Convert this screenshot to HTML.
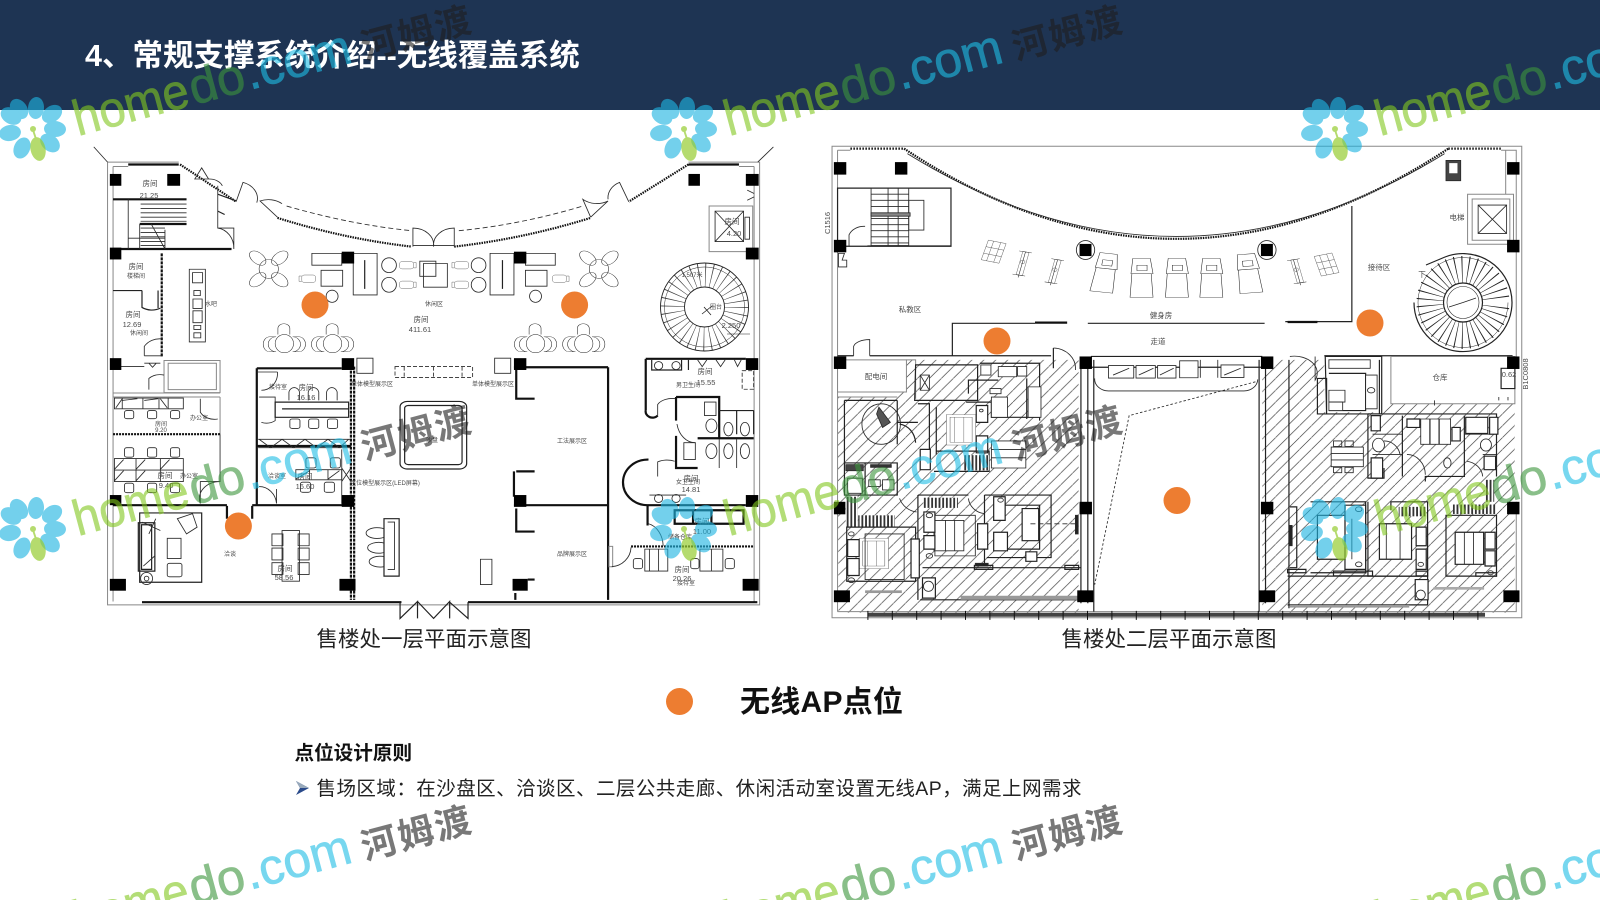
<!DOCTYPE html>
<html lang="zh"><head><meta charset="utf-8"><title>无线覆盖系统</title>
<style>
html,body{margin:0;padding:0;background:#fff;width:1600px;height:900px;overflow:hidden}
svg{display:block}
text{font-family:"Liberation Sans","Noto Sans CJK SC",sans-serif}
.p *{vector-effect:non-scaling-stroke}
pattern *{vector-effect:none!important}
.p{fill:none;stroke:#2a2a2a;stroke-width:.85}
.t{stroke:#111;stroke-width:2.2}
.m{stroke:#222;stroke-width:1.2}
.g{stroke:#888;stroke-width:1}
.w{fill:#fff}
.k{fill:#000;stroke:none}
.l text{fill:#4a4a4a;font-size:7.5px;text-anchor:middle;stroke:none}
.l .s{font-size:6px}
</style></head><body>
<svg xmlns="http://www.w3.org/2000/svg" width="1600" height="900" viewBox="0 0 1600 900">
<defs>
<pattern id="h" patternUnits="userSpaceOnUse" width="26" height="35"><path d="M-2 37.7L28 -2.7" stroke="#3a3a3a" stroke-width="1.6" fill="none"/></pattern>
<pattern id="st" patternUnits="userSpaceOnUse" width="8" height="20"><rect width="8" height="20" fill="#fff"/><rect width="4" height="20" fill="#333"/></pattern>
<g id="t4" class="m"><ellipse rx="21" ry="28"/><ellipse cx="-24" cy="-32" rx="14" ry="24" transform="rotate(-35 -24 -32)"/><ellipse cx="24" cy="-32" rx="14" ry="24" transform="rotate(35 24 -32)"/><ellipse cx="-24" cy="32" rx="14" ry="24" transform="rotate(35 -24 32)"/><ellipse cx="24" cy="32" rx="14" ry="24" transform="rotate(-35 24 32)"/></g>
<g id="t3" class="m"><ellipse rx="20" ry="27"/><path d="M-18 -20A14 18 0 0 0 -18 24H-32A14 22 0 0 1 -32 -20Z"/><path d="M18 -20A14 18 0 0 1 18 24H32A14 22 0 0 0 32 -20Z"/><path d="M-14 -27V-45A13 14 0 0 1 12 -45V-27"/></g>
<g id="ch"><rect x="-11" y="-14" width="22" height="30" rx="6"/><path d="M-8 -14V-20H8V-14"/></g>
<g id="tm" class="m"><path class="w" d="M-22 0L-26 70H24L20 0Z"/><path class="w" d="M-20 -45H18L24 0H-24Z"/><rect x="-11" y="-25" width="22" height="16"/></g>
<g id="bk"><rect class="w" x="-20" y="-30" width="40" height="60"/><path d="M-20 -10H20M-20 10H20M-8 -30V30M8 -30V30"/></g>
<g id="gy"><path class="w" d="M-6 -35H8V35H-6Z"/><path class="m" d="M-14 -35H14M-14 35H14M0 -35V42"/><circle cy="-5" r="5"/></g>
<g id="bed"><rect class="w" width="64" height="90"/><rect x="8" y="8" width="48" height="74"/><path d="M18 8V82M38 8V82"/></g>
<g id="fl"><g fill="#1eb4e1" opacity=".62"><ellipse cx="-14" cy="-19" rx="8" ry="11" transform="rotate(-36 -14 -19)"/><ellipse cx="3" cy="-20" rx="8" ry="11" transform="rotate(5 3 -20)"/><ellipse cx="19" cy="-14" rx="8" ry="11" transform="rotate(55 19 -14)"/><ellipse cx="22" cy="1" rx="8" ry="11" transform="rotate(93 22 1)"/><ellipse cx="17" cy="15" rx="8" ry="11" transform="rotate(130 17 15)"/><ellipse cx="-22" cy="-12" rx="8" ry="11" transform="rotate(-60 -22 -12)"/><ellipse cx="-23" cy="5" rx="8" ry="11" transform="rotate(-100 -23 5)"/><ellipse cx="-11" cy="20" rx="8" ry="11" transform="rotate(-155 -11 20)"/></g><g fill="#96cd32" opacity=".7"><ellipse cx="5" cy="21" rx="7.5" ry="12" transform="rotate(168 5 21)"/><circle cx="0" cy="1" r="3"/><path d="M-1 2L3 14H5L1 2Z"/></g></g>
<g id="wt"><g transform="translate(45,8) rotate(-15)" font-size="50" opacity=".6" stroke-width=".7"><text x="0" y="0" textLength="118" lengthAdjust="spacingAndGlyphs" fill="#82c81e" stroke="#82c81e">home</text><text x="120" y="0" textLength="56" lengthAdjust="spacingAndGlyphs" fill="#3c963c" stroke="#3c963c">do</text><text x="178" y="0" textLength="108" lengthAdjust="spacingAndGlyphs" fill="#1ebee6" stroke="#1ebee6">.com</text></g><text transform="translate(332,-68) rotate(-15)" font-size="36" font-weight="700" fill="#1e1e1e" fill-opacity=".6" textLength="112">河姆渡</text></g>
</defs>
<rect width="1600" height="110" fill="#1e3453"/>
<text x="85" y="66" font-size="30.5" font-weight="700" fill="#fff">4、常规支撑系统介绍--无线覆盖系统</text>

<!-- LEFT PLAN -->
<g class="p" transform="translate(80,130) scale(.4592,.338)">
<path class="g" d="M60 95H215M60 95V1405H1480V95H1325M72 108V1395M1468 108V1395M72 108H105M1468 108H1435"/>
<path d="M30 50L60 95M1510 50L1476 95"/>
<path class="t" d="M105 102H215M1325 102H1435"/>
<path class="t" d="M135 1397H700M845 1397H1475"/>
<path class="t" stroke-dasharray="1.5 1" d="M218 102L340 212M1325 102L1195 212"/>
<path class="t" stroke-dasharray="1.5 1" d="M430 260Q575 322 722 345M815 345Q965 322 1112 260"/>
<path d="M450 225Q590 280 722 298M825 298Q960 280 1095 225" stroke-dasharray="5 3"/>
<path d="M725 345V290A45 50 0 0 1 770 345A45 50 0 0 1 815 290V345M725 342H815M430 258L392 210A50 60 0 0 1 440 218M1112 258L1095 205A50 60 0 0 0 1150 210L1112 258M340 212L355 155A45 50 0 0 1 385 215M1195 212L1175 155A45 50 0 0 0 1150 205M265 112L250 145L280 145ZM280 145A30 30 0 0 1 310 165"/>
<path class="t" d="M72 205H232M130 278H232M72 352H330"/>
<path d="M105 205V352M130 352V278M105 320H185M185 295V352M300 165V290H335V352M300 290A40 60 0 0 1 335 352"/>
<path d="M132 219H232M132 232H232M132 245H232M132 258H232M132 270H232M132 290H185M132 303H185M132 316H185M132 330H185M132 342H185M155 278L185 352"/>
<path class="t" stroke-dasharray="3 1" d="M178 365V670"/>
<path class="m" d="M72 475H135M135 475V525A40 50 0 0 0 175 527M170 475V527"/>
<path d="M140 668V640A40 50 0 0 1 178 618M140 668H178"/>
<rect x="238" y="412" width="35" height="215"/><rect x="245" y="422" width="22" height="30"/><rect x="248" y="475" width="14" height="15"/><rect x="246" y="500" width="20" height="28"/><rect x="246" y="535" width="20" height="35"/><rect x="248" y="578" width="15" height="12"/><rect x="248" y="600" width="15" height="15"/>
<use href="#t4" x="411" y="411"/><use href="#t4" x="1130" y="411"/>
<rect x="505" y="365" width="65" height="35"/><rect x="970" y="365" width="65" height="35"/>
<rect x="595" y="365" width="52" height="123"/><rect x="893" y="365" width="52" height="123"/><path class="m" d="M620 385V470M920 385V470"/>
<rect x="525" y="415" width="47" height="47"/><rect x="970" y="415" width="47" height="47"/>
<use href="#ch" transform="translate(497,440) rotate(-90)"/><use href="#ch" transform="translate(1045,440) rotate(90)"/>
<ellipse cx="673" cy="400" rx="16" ry="22"/><ellipse cx="673" cy="458" rx="16" ry="22"/><ellipse cx="868" cy="400" rx="16" ry="22"/><ellipse cx="868" cy="458" rx="16" ry="22"/>
<use href="#ch" transform="translate(712,400) rotate(90)"/><use href="#ch" transform="translate(712,458) rotate(90)"/><use href="#ch" transform="translate(830,400) rotate(-90)"/><use href="#ch" transform="translate(830,458) rotate(-90)"/>
<rect x="740" y="388" width="35" height="45"/><rect x="748" y="395" width="52" height="70"/>
<ellipse cx="549" cy="492" rx="13" ry="18"/><ellipse cx="992" cy="492" rx="13" ry="18"/>
<use href="#t3" x="445" y="632"/><use href="#t3" x="550" y="632"/><use href="#t3" x="992" y="632"/><use href="#t3" x="1097" y="632"/>
<rect x="603" y="675" width="35" height="45"/><rect x="903" y="675" width="35" height="45"/>
<path stroke-dasharray="4 2" d="M686 700H855V732H686ZM706 700V732M770 700V732M832 700V732"/>
<path class="g" d="M183 682H305V777H183ZM192 690H297V768H192ZM72 778H305M72 790H305M305 790V900"/>
<path d="M150 768V735A35 40 0 0 1 183 725M72 700H140"/>
<path d="M140 690H175M150 690L158 702L166 690"/>
<path d="M75 793H225V825H75ZM92 793V825M137 793V825M172 793V825M192 793V825M78 822L92 795M125 795L92 800M170 795L140 800M190 822L175 795"/>
<rect x="97" y="830" width="20" height="24" rx="5"/><rect x="147" y="830" width="20" height="24" rx="5"/><rect x="197" y="830" width="20" height="24" rx="5"/>
<path d="M262 795V835A35 40 0 0 0 300 855"/>
<path class="t" stroke-dasharray="2 1" d="M72 900H305"/>
<rect x="97" y="940" width="20" height="28" rx="5"/><rect x="147" y="940" width="20" height="28" rx="5"/><rect x="197" y="940" width="20" height="28" rx="5"/>
<path d="M75 972H225V1040H75ZM75 1006H225M122 972V1040M175 972V1040M75 1004L95 975M122 1004L142 975M175 1004L195 975M75 1038L95 1008M122 1038L142 1008"/>
<rect x="97" y="1045" width="20" height="28" rx="5"/><rect x="147" y="1045" width="20" height="28" rx="5"/><rect x="197" y="1045" width="20" height="28" rx="5"/>
<path d="M305 900V1040A45 50 0 0 0 262 1105V1040H305"/>
<path class="t" d="M72 1110H320M375 1110H590M320 1112V1150M375 1112V1150"/>
<path class="m" d="M130 1133H265V1338H130Z"/><path class="m" d="M127 1162H163V1305H127ZM134 1168H156V1300H134Z"/>
<path d="M135 1160L175 1185M165 1150L150 1195M138 1290L163 1260"/>
<rect x="190" y="1208" width="30" height="60"/><rect x="190" y="1282" width="32" height="40" rx="5"/><path d="M212 1150L245 1135L255 1175L232 1195Z"/>
<ellipse cx="145" cy="1327" rx="13" ry="18"/><ellipse cx="145" cy="1327" rx="5" ry="7"/>
<rect x="440" y="1185" width="38" height="150"/>
<rect x="418" y="1195" width="24" height="35"/><rect x="418" y="1237" width="24" height="35"/><rect x="418" y="1280" width="24" height="35"/><rect x="475" y="1195" width="24" height="35"/><rect x="475" y="1237" width="24" height="35"/><rect x="475" y="1280" width="24" height="35"/>
<path class="t" d="M385 705H570M385 705V1110M385 935H590M945 702H1150M1150 702V1390M945 1110H1150"/>
<path d="M385 716H430M430 716A35 50 0 0 1 395 770M390 790H425V860A35 45 0 0 1 395 865"/>
<path class="m" d="M425 805H585V850H425ZM440 825H585"/>
<path d="M455 800V775A12 18 0 0 1 478 775V800M497 800V775A12 18 0 0 1 520 775V800M537 800V775A12 18 0 0 1 560 775V800"/>
<rect x="457" y="855" width="22" height="28" rx="5"/><rect x="498" y="855" width="22" height="28" rx="5"/><rect x="539" y="855" width="22" height="28" rx="5"/>
<path d="M388 915H590M388 940H590M390 915L415 940L440 915L465 940L490 915L515 940L540 915L565 940L585 915"/>
<path d="M470 1005H570V1035H470ZM500 1005V1035M540 1005V1035M470 1033L500 1008M540 1033L565 1008"/>
<rect x="492" y="970" width="22" height="30" rx="5"/><rect x="545" y="970" width="22" height="30" rx="5"/><rect x="480" y="1042" width="22" height="30" rx="5"/><rect x="532" y="1042" width="22" height="30" rx="5"/>
<path d="M570 945V1105H590M570 1000L590 1040M570 1040L590 1000M390 1055A38 55 0 0 1 428 1105V1062"/>
<path class="t" stroke-dasharray="3 1" d="M590 700V1390M597 700V1390"/>
<path class="t" d="M950 710V795H990M945 1010V1085M950 1010H990M950 1120V1188H990M975 1330H990M948 1370V1390"/>
<rect x="697" y="803" width="145" height="200" rx="16" class="m"/><rect x="707" y="815" width="125" height="175" rx="8" class="m"/>
<path class="m" d="M662 1150H695V1320H662Z"/><path d="M670 1160H685V1300H670"/><path d="M662 1180A24 16 0 1 0 662 1205M662 1222A24 16 0 1 0 662 1250M662 1262A24 16 0 1 0 662 1292"/>
<rect x="872" y="1270" width="25" height="75"/>
<path class="m" d="M697 1397V1445L735 1395V1445M735 1395L770 1445L805 1395V1445M805 1397L845 1445V1397"/>
<path class="t" d="M1232 677H1450M1232 677V830M1232 830A15 18 0 0 0 1258 845M1238 975A20 25 0 0 0 1235 1110H1450"/>
<path class="m" d="M1245 680V710H1310V680M1325 680V710"/>
<ellipse cx="1260" cy="697" rx="9" ry="12"/><ellipse cx="1298" cy="697" rx="9" ry="12"/><path d="M1345 680L1355 700L1365 680M1385 680L1395 700L1405 680M1425 680L1432 700L1440 680"/>
<rect x="1442" y="712" width="25" height="55" stroke-dasharray="4 2"/>
<path d="M1258 845V812A35 30 0 0 1 1298 795M1258 1025V982A35 30 0 0 1 1295 980"/>
<path class="t" d="M1298 790H1392V880M1298 790V860M1298 905V1000H1345M1345 912H1467M1392 880V912"/>
<rect x="1360" y="805" width="25" height="40"/><ellipse cx="1375" cy="875" rx="12" ry="20"/><ellipse cx="1412" cy="885" rx="10" ry="20"/><ellipse cx="1448" cy="885" rx="10" ry="20"/><path class="m" d="M1392 830L1430 830V900M1467 830V900M1430 830L1467 830"/>
<ellipse cx="1375" cy="950" rx="12" ry="22"/><ellipse cx="1412" cy="950" rx="10" ry="22"/><ellipse cx="1448" cy="950" rx="10" ry="22"/><path d="M1392 915V1000M1430 915V1000"/>
<rect x="1315" y="925" width="25" height="50"/>
<path d="M1300 870A40 70 0 0 0 1340 925"/>
<ellipse cx="1260" cy="1090" rx="9" ry="12"/><ellipse cx="1298" cy="1090" rx="9" ry="12"/><path d="M1240 1080H1320"/>
<path class="t" d="M1236 1112V1170M1295 1125H1445V1165H1295ZM1335 1125V1165M1375 1125V1165"/>
<path d="M1238 1165A40 70 0 0 1 1270 1230"/>
<path class="t" stroke-dasharray="2 1" d="M1200 1232H1468"/>
<rect x="1152" y="1232" width="8" height="60" class="g"/><path d="M1158 1292A45 60 0 0 0 1200 1235"/>
<path d="M1230 1240H1280V1305H1230ZM1240 1240V1305M1260 1240V1305M1350 1240H1400V1305H1350ZM1375 1240V1305"/>
<rect x="1205" y="1268" width="20" height="30" rx="6"/><rect x="1330" y="1268" width="18" height="30" rx="6"/><rect x="1405" y="1268" width="20" height="30" rx="6"/>
<rect x="1370" y="225" width="95" height="135" class="g"/><rect x="1383" y="240" width="62" height="90"/><path d="M1383 240L1445 330M1445 240L1383 330"/><rect x="1448" y="258" width="10" height="65" />
<path d="M1453 178L1468 188M1453 208L1468 198"/>
<path class="m" d="M300 190L340 210M300 240L315 250"/>
<g class="k"><rect x="65" y="130" width="25" height="35"/><rect x="190" y="130" width="28" height="35"/><rect x="1325" y="130" width="25" height="35"/><rect x="1450" y="130" width="28" height="35"/><rect x="65" y="348" width="25" height="35"/><rect x="1450" y="348" width="28" height="35"/><rect x="570" y="360" width="27" height="35"/><rect x="945" y="360" width="27" height="35"/><rect x="65" y="675" width="25" height="35"/><rect x="570" y="675" width="27" height="35"/><rect x="945" y="675" width="27" height="35"/><rect x="1450" y="675" width="27" height="35"/><rect x="65" y="1080" width="25" height="30"/><rect x="570" y="1080" width="27" height="35"/><rect x="945" y="1080" width="27" height="35"/><rect x="1450" y="1080" width="27" height="35"/><rect x="65" y="1328" width="35" height="35"/><rect x="565" y="1328" width="35" height="35"/><rect x="942" y="1328" width="33" height="35"/><rect x="1443" y="1328" width="35" height="35"/></g>
</g>
<!-- left spiral (real coords) -->
<g fill="none" stroke="#222">
<circle cx="704.5" cy="307" r="32" stroke-width="24" stroke-dasharray=".7 5.6" stroke-opacity=".85"/>
<circle cx="704.5" cy="307" r="44" stroke-width=".9"/><circle cx="704.5" cy="307" r="20" stroke-width=".9"/><circle cx="704.5" cy="307" r="40" stroke-width=".5"/>
<path d="M704 307L711 315M702 314L712 306" stroke-width=".8"/><path d="M727 334H750" stroke-width=".6"/>
</g>

<!-- RIGHT PLAN -->
<g class="p" transform="translate(810,130) scale(.4592,.338)">
<path fill="url(#h)" stroke="none" d="M60 790H190V680H585V1428H62ZM985 680H1120V835H1245V810H1535V1428H985Z"/>
<path fill="#fff" stroke="none" d="M620 1428L695 845L970 745L975 1428Z"/>
<path class="g" stroke="#555" d="M48 48H1550V1443H48ZM60 60H88M1505 60H1538V690M60 60V690M60 1425H1538V1100M1538 1120V1425M60 700V1425"/>
<path class="t" stroke-dasharray="1.5 1.5" stroke-width="5" d="M88 55H205M1390 55H1505"/>
<path class="t" stroke-dasharray="1.5 1" stroke-width="3.2" d="M205 55Q797 589 1390 55"/>
<path d="M212 70Q797 560 1382 70"/>
<path stroke="#444" stroke-width="4" d="M125 1434H1470"/>
<path stroke="#111" stroke-width="9" stroke-dasharray="1 23.4" d="M125 1436H1470"/>
<rect x="60" y="172" width="247" height="172" class="m"/><path class="m" d="M125 343H307"/>
<rect x="133" y="172" width="82" height="170"/><rect x="215" y="208" width="33" height="88"/>
<path d="M133 190H215M133 208H215M133 226H215M133 262H215M133 280H215M133 298H215M133 316H215M133 334H215M170 172V342M192 172V342"/>
<rect x="133" y="245" width="85" height="10" fill="#888"/>
<path d="M85 345V310A35 40 0 0 1 120 285M70 385H80V405H62V365H75Z"/>
<path class="m" d="M60 668H95M130 668H525M310 668V572H490M605 572H990M1035 567H1180V225M530 645V705M612 670H985M612 702H985M1120 668H1530"/>
<path class="t" d="M490 570H560M1040 568H1105"/>
<path d="M95 668V640A35 25 0 0 1 130 620V668M530 645A50 60 0 0 1 578 710"/>
<rect x="60" y="680" width="150" height="95" class="g" fill="#fff"/>
<path class="g" d="M210 680H230V795M60 790H190"/>
<g fill="#fff"><rect x="650" y="697" width="55" height="37"/><rect x="710" y="697" width="42" height="37"/><rect x="757" y="697" width="40" height="37"/><rect x="805" y="683" width="40" height="50"/><rect x="895" y="695" width="50" height="37"/></g>
<path d="M660 725L695 705M716 725L748 705M762 725L792 705M902 725L938 705M850 680V733M888 680V733M620 735A30 35 0 0 0 650 772H945A30 35 0 0 0 975 738"/>
<path stroke-dasharray="2.5 2" d="M970 745L695 845L620 1345"/>
<path class="m" d="M590 680V1400M605 680V1400M618 680V1425M978 680V1425M992 680V1400M1043 680V1415"/>
<path d="M1045 670A50 50 0 0 1 1100 740V670"/>
<ellipse cx="600" cy="355" rx="20" ry="28"/><ellipse cx="995" cy="355" rx="20" ry="28"/>
<use href="#tm" x="645" y="410" transform="rotate(8 645 410)"/><use href="#tm" x="723" y="425"/><use href="#tm" x="800" y="425"/><use href="#tm" x="875" y="425"/><use href="#tm" x="955" y="412" transform="rotate(-6 955 412)"/>
<use href="#bk" x="400" y="360" transform="rotate(15 400 360)"/><use href="#bk" x="1125" y="398" transform="rotate(-15 1125 398)"/>
<use href="#gy" x="462" y="395" transform="rotate(12 462 395)"/><use href="#gy" x="532" y="418" transform="rotate(12 532 418)"/><use href="#gy" x="1060" y="418" transform="rotate(-12 1060 418)"/>
<rect x="1385" y="90" width="32" height="60" fill="#444"/><rect x="1392" y="98" width="18" height="30" fill="#fff" stroke="none"/>
<path class="g" d="M1432 190H1532V338H1432ZM1442 204H1524V326H1442ZM1515 60V190"/><rect x="1455" y="222" width="62" height="84"/><path d="M1455 222L1517 306M1517 222L1455 306"/>
<path class="g" fill="#fff" d="M1265 670H1535V810H1265Z"/>
<rect x="1505" y="705" width="30" height="60" class="m" fill="#fff"/>
<path d="M1360 800V815M1500 790V800M1520 790V800"/>
<!-- left apartment -->
<path class="m" d="M230 695H365V800H228ZM370 690H500V850H395V805H340M345 780V740H410M500 690V860M472 735V855"/>
<g fill="#fff"><rect x="372" y="695" width="22" height="30"/><rect x="410" y="700" width="40" height="30"/><rect x="452" y="700" width="20" height="28"/><rect x="475" y="760" width="28" height="90"/><rect x="395" y="790" width="35" height="60"/><rect x="392" y="765" width="24" height="15"/></g>
<rect x="240" y="725" width="20" height="45" fill="#fff"/><path d="M240 725L260 770M260 725L240 770"/>
<path class="m" d="M75 800H190M190 800V930M75 800V985M190 865H235"/>
<ellipse cx="155" cy="870" rx="42" ry="60"/><path d="M150 820L175 865L158 880L145 840Z" fill="#555"/>
<path class="m" d="M195 870A40 60 0 0 1 230 925M235 810H260V1000M275 820V960"/><use href="#bed" x="297" y="842"/>
<g fill="#fff" class="m"><rect x="362" y="815" width="25" height="50"/><rect x="362" y="905" width="25" height="50"/><rect x="240" y="945" width="22" height="60"/></g>
<circle cx="373" cy="830" r="4"/>
<path class="m" d="M275 950H390V1010H270"/><rect x="395" y="920" width="75" height="80" fill="#fff"/><path d="M395 945H470M395 970H470" stroke="#222"/><rect x="335" y="962" width="55" height="45" fill="url(#st)" stroke="none"/>
<path class="m" d="M75 985H190V1080H75ZM120 985V1080"/><g fill="#fff"><rect x="82" y="1030" width="32" height="45"/><rect x="128" y="1035" width="25" height="20"/><rect x="158" y="1035" width="25" height="30"/></g><rect x="78" y="990" width="38" height="18" fill="#444"/><rect x="132" y="990" width="45" height="8" fill="#333"/>
<rect x="78" y="1085" width="26" height="90" fill="url(#st)" stroke="none"/><rect x="105" y="1140" width="80" height="35" fill="url(#st)" stroke="none"/><rect x="247" y="1088" width="75" height="30" fill="url(#st)" stroke="none"/>
<path d="M195 1090A45 60 0 0 0 232 1130M345 1090A40 50 0 0 0 380 1135"/>
<path class="m" d="M235 1080H345M235 1080V1390M380 1080V1285M380 1080H525V1265H385M415 1110H500V1240H415"/>
<rect x="270" y="1155" width="65" height="90" fill="#fff"/><rect x="272" y="1140" width="88" height="120"/><path d="M295 1155V1245M315 1155V1245"/>
<g fill="#fff" class="m"><rect x="248" y="1130" width="24" height="60"/><rect x="248" y="1200" width="24" height="40"/><rect x="400" y="1085" width="25" height="70"/><rect x="400" y="1190" width="30" height="55"/><rect x="462" y="1120" width="36" height="95"/><rect x="470" y="1248" width="24" height="28"/><rect x="365" y="1165" width="22" height="75"/></g>
<circle cx="260" cy="1140" r="7"/><circle cx="260" cy="1260" r="7"/><circle cx="415" cy="1095" r="6"/>
<path stroke-dasharray="5 3" d="M480 1165H580"/><rect x="578" y="1140" width="6" height="55" fill="#222"/>
<path class="m" d="M80 1175H230V1335H80ZM245 1295H590M240 1390H590"/><use href="#bed" x="107" y="1208"/><rect x="120" y="1195" width="85" height="135"/>
<g fill="#fff" class="m"><rect x="82" y="1212" width="25" height="50"/><rect x="82" y="1268" width="25" height="50"/><rect x="220" y="1210" width="18" height="115"/></g><circle cx="90" cy="1195" r="6"/><circle cx="90" cy="1332" r="7"/>
<rect x="358" y="1288" width="40" height="12" class="m"/><rect x="555" y="1288" width="30" height="12" class="m"/><rect x="360" y="1282" width="28" height="8" fill="#222"/>
<rect x="245" y="1325" width="28" height="60" class="m" fill="#fff"/><ellipse cx="258" cy="1350" rx="11" ry="15"/>
<rect x="328" y="1378" width="255" height="12" fill="#999" stroke="none"/><rect x="120" y="1362" width="80" height="8" fill="#999" stroke="none"/>
<!-- right apartment -->
<path class="m" d="M1122 670H1245V840H1125ZM1105 735H1125V840H1105ZM1130 720H1210V830H1130M1240 680V840"/>
<g fill="#fff"><rect x="1130" y="680" width="90" height="25"/><rect x="1130" y="770" width="35" height="35"/><rect x="1210" y="725" width="25" height="100"/><rect x="1130" y="805" width="30" height="25"/></g><circle cx="1222" cy="770" r="8"/>
<path class="m" d="M1215 840H1495V1025M1215 840V1030H1250V1000M1290 845V1025M1425 845V1025H1340V1040"/>
<path d="M1225 900H1290M1225 960H1290M1425 900H1495M1465 960H1495"/>
<rect x="1330" y="855" width="65" height="75" fill="#fff"/><path class="m" d="M1350 855V930M1370 855V930"/>
<g fill="#fff" class="m"><rect x="1398" y="880" width="18" height="40"/><rect x="1300" y="855" width="28" height="25"/><rect x="1428" y="850" width="48" height="48"/><rect x="1480" y="850" width="18" height="50"/><rect x="1222" y="845" width="20" height="45"/><rect x="1222" y="970" width="25" height="60"/><rect x="1468" y="965" width="25" height="40"/></g>
<path d="M1300 960A40 60 0 0 1 1340 1020M1430 980A40 50 0 0 1 1465 1025M1250 920A35 50 0 0 1 1285 960"/>
<ellipse cx="1238" cy="932" rx="13" ry="20" fill="#fff"/><ellipse cx="1388" cy="985" rx="8" ry="15" fill="#fff"/><ellipse cx="1472" cy="932" rx="12" ry="18" fill="#fff"/>
<rect x="1135" y="938" width="70" height="58" fill="#fff"/><path d="M1135 957H1205M1135 976H1205"/><rect x="1140" y="920" width="18" height="16"/><rect x="1165" y="920" width="18" height="16"/><rect x="1140" y="998" width="18" height="16"/><rect x="1165" y="998" width="18" height="16"/>
<rect x="1470" y="1035" width="20" height="65" fill="url(#st)" stroke="none"/><rect x="1400" y="1108" width="95" height="28" fill="url(#st)" stroke="none"/><rect x="1282" y="1115" width="60" height="28" fill="url(#st)" stroke="none"/>
<path class="m" d="M1045 1115H1060V1295H1045M1090 1100H1210V1310H1090M1215 1100V1320H1345V1100H1265V1125M1385 1140H1495V1320H1385Z"/>
<rect x="1045" y="1170" width="5" height="60" fill="#222"/>
<g fill="#fff" class="m"><rect x="1165" y="1110" width="45" height="190"/><rect x="1105" y="1140" width="60" height="130"/><rect x="1240" y="1165" width="70" height="105"/><rect x="1320" y="1175" width="22" height="55"/><rect x="1320" y="1240" width="22" height="60"/><rect x="1405" y="1190" width="62" height="95"/><rect x="1470" y="1190" width="22" height="50"/><rect x="1470" y="1245" width="22" height="45"/></g>
<path d="M1255 1165V1270M1285 1165V1270M1425 1190V1285M1445 1190V1285M1180 1150V1270"/>
<circle cx="1195" cy="1122" r="7"/><circle cx="1195" cy="1285" r="7"/><circle cx="1330" cy="1285" r="6"/><circle cx="1482" cy="1310" r="6"/>
<rect x="1040" y="1300" width="40" height="10" class="m"/><rect x="1140" y="1305" width="85" height="14" class="m"/><rect x="1320" y="1305" width="25" height="14" class="m"/><rect x="1450" y="1310" width="45" height="10" class="m"/>
<path class="m" d="M1040 1320H1345V1405H1040"/><rect x="1318" y="1330" width="28" height="60" class="m" fill="#fff"/><ellipse cx="1330" cy="1375" rx="10" ry="14"/>
<rect x="1358" y="1352" width="110" height="8" fill="#aaa" stroke="none"/><rect x="1045" y="1405" width="260" height="8" fill="#999" stroke="none"/>
<g class="k"><rect x="52" y="95" width="27" height="37"/><rect x="185" y="95" width="27" height="37"/><rect x="1518" y="95" width="27" height="37"/><rect x="52" y="325" width="27" height="37"/><rect x="1518" y="325" width="27" height="37"/><rect x="52" y="670" width="27" height="37"/><rect x="587" y="670" width="27" height="37"/><rect x="982" y="670" width="27" height="37"/><rect x="1518" y="670" width="27" height="37"/><rect x="52" y="1100" width="25" height="37"/><rect x="587" y="1100" width="27" height="37"/><rect x="982" y="1100" width="27" height="37"/><rect x="1518" y="1100" width="27" height="37"/><rect x="52" y="1362" width="35" height="35"/><rect x="582" y="1362" width="35" height="35"/><rect x="978" y="1362" width="35" height="35"/><rect x="1510" y="1362" width="35" height="35"/><rect x="587" y="337" width="26" height="36"/><rect x="982" y="337" width="26" height="36"/></g>
</g>
<!-- right spiral -->
<g fill="none" stroke="#222">
<circle cx="1463" cy="302.5" r="33" stroke-width="27" stroke-dasharray=".8 5.2" stroke-dashoffset="8"/>
<circle cx="1463" cy="302.5" r="19.500" fill="#fff" stroke-width="1.200"/><circle cx="1463" cy="302.5" r="16" stroke-width=".6"/>
<path d="M1414 302.5A49 49 0 1 0 1445 257M1426 265L1445 257" stroke-width="1.200"/><circle cx="1463" cy="302.5" r="45" stroke-width=".5" stroke-dasharray="240 60"/>
<path d="M1463 302.5L1449 307M1463 302.5L1476 298" stroke-width=".7"/>
</g>

<!-- plan labels -->
<g class="l">
<text x="150" y="186">房间</text><text x="149" y="198">21.25</text><text x="136" y="269">房间</text><text class="s" x="136" y="278">楼梯间</text><text x="133" y="317">房间</text><text x="132" y="327">12.69</text><text class="s" x="139" y="335">休闲间</text><text class="s" x="211" y="306">水吧</text><text class="s" x="434" y="306">休闲区</text><text x="421" y="322">房间</text><text x="420" y="332">411.61</text><text class="s" x="692" y="277">1.507米</text><text class="s" x="716" y="309">圈台</text><text x="731" y="328">2.250</text><text x="705" y="374">房间</text><text class="s" x="688" y="387">男卫生间</text><text x="706" y="385">15.55</text><text x="306" y="390">房间</text><text class="s" x="278" y="389">接待室</text><text x="306" y="400">16.16</text><text class="s" x="199" y="420">办公室</text><text class="s" x="161" y="426">房间</text><text class="s" x="161" y="432">9.20</text><text class="s" x="372" y="386">单体模型展示区</text><text class="s" x="493" y="386">单体模型展示区</text><text class="s" x="432" y="442">沙盘</text><text class="s" x="572" y="443">工法展示区</text><text class="s" x="385" y="485">区位模型展示区(LED屏幕)</text><text class="s" x="277" y="478">洽谈室</text><text x="305" y="479">房间</text><text x="305" y="489">16.60</text><text class="s" x="189" y="478">办公室</text><text x="165" y="478">房间</text><text x="166" y="488">9.40</text><text x="691" y="481">房间</text><text class="s" x="688" y="484">女卫生间</text><text x="691" y="492">14.81</text><text class="s" x="230" y="556">洽谈</text><text x="285" y="571">房间</text><text x="284" y="580">58.56</text><text class="s" x="572" y="556">品牌展示区</text><text x="702" y="524">房间</text><text x="702" y="534">11.00</text><text class="s" x="680" y="539">储备仓库</text><text x="682" y="572">房间</text><text x="682" y="581">20.26</text><text class="s" x="686" y="585">接待室</text><text x="732" y="224">房间</text><text x="734" y="236">4.20</text>
<text transform="translate(830,223) rotate(-90)">C1516</text><text x="910" y="312">私教区</text><text x="1161" y="318">健身房</text><text x="1158" y="344">走道</text><text x="1379" y="270">接待区</text><text x="1422" y="277">下</text><text x="1457" y="220">电梯</text><text x="876" y="379">配电间</text><text x="1440" y="380">仓库</text><text x="1509" y="377">0.62</text><text transform="translate(1528,374) rotate(-90)">B1C0808</text>
</g>

<!-- AP dots -->
<g fill="#ed7d31"><circle cx="315" cy="305" r="13.500"/><circle cx="574.600" cy="305" r="13.500"/><circle cx="238.400" cy="526" r="13.500"/><circle cx="997" cy="341" r="13.500"/><circle cx="1370" cy="323" r="13.500"/><circle cx="1177" cy="500.500" r="13.500"/><circle cx="679.500" cy="701.500" r="13.500"/></g>

<text x="316.500" y="646.500" font-size="21.500" fill="#222">售楼处一层平面示意图</text>
<text x="1061.500" y="646.500" font-size="21.500" fill="#222">售楼处二层平面示意图</text>
<text x="740" y="712" font-size="30" font-weight="700" fill="#111" textLength="163">无线AP点位</text>
<text x="294.500" y="759.500" font-size="19.600" font-weight="700" fill="#111">点位设计原则</text>
<path d="M296 781L309 788L296 795L300 788Z" fill="#2a4a8a"/>
<path d="M296 781L309 788L300 788Z" fill="#9ab"/>
<text x="316.500" y="795" font-size="19.500" fill="#222" textLength="765">售场区域：在沙盘区、洽谈区、二层公共走廊、休闲活动室设置无线AP，满足上网需求</text>

<!-- watermarks -->
<use href="#fl" x="33" y="128"/><use href="#wt" x="33" y="128"/><use href="#fl" x="684" y="128"/><use href="#wt" x="684" y="128"/><use href="#fl" x="1335" y="128"/><use href="#wt" x="1335" y="128"/>
<use href="#fl" x="33" y="528"/><use href="#wt" x="33" y="528"/><use href="#fl" x="684" y="528"/><use href="#wt" x="684" y="528"/><use href="#fl" x="1335" y="528"/><use href="#wt" x="1335" y="528"/>
<svg x="0" y="0" width="1600" height="900" viewBox="0 0 1600 900"><use href="#wt" x="33" y="928"/><use href="#wt" x="684" y="928"/><use href="#wt" x="1335" y="928"/></svg>
</svg>
</body></html>
